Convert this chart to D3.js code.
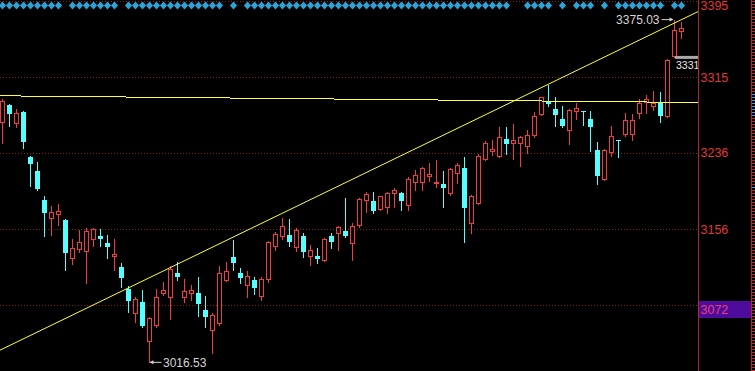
<!DOCTYPE html>
<html>
<head>
<meta charset="utf-8">
<script src="https://cdn.jsdelivr.net/npm/d3@7/dist/d3.min.js"></script>
<style>
html, body { margin: 0; padding: 0; background: #000; overflow: hidden; }
svg { display: block; }
</style>
</head>
<body>
<div id="chart"></div>
<script>
var svgWidth = 755;
var svgHeight = 371;
var plotRight = 698;

// daily candles
var opens  = [3268,3286,3267,3278,3231,3217,3186,3168,3172,3165,3126,3135,3133,3146,3149,3141,3128,3116,3093,3068,
              3080,3039,3056,3089,3085,3110,3085,3089,3089,3071,3050,3058,3103,3127,3110,3097,3103,3086,3104,3138,
              3149,3150,3137,3149,3128,3128,3124,3149,3152,3154,3141,3160,3186,3185,3177,3179,3194,3194,3181,3205,
              3205,3211,3204,3203,3194,3215,3220,3162,3183,3229,3238,3232,3250,3246,3246,3243,3254,3276,3290,3282,
              3271,3260,3279,3279,3271,3239,3208,3237,3249,3255,3255,3277,3289,3285,3288,3274,3337,3363];
var highs  = [3292,3287,3282,3279,3232,3226,3190,3180,3182,3166,3146,3155,3157,3157,3156,3150,3146,3120,3096,3085,
              3092,3064,3093,3101,3117,3121,3104,3097,3106,3086,3068,3117,3122,3145,3115,3112,3106,3106,3143,3153,
              3167,3166,3157,3152,3139,3136,3147,3152,3159,3188,3162,3188,3195,3195,3191,3195,3199,3195,3210,3218,
              3221,3225,3228,3217,3220,3225,3231,3192,3234,3248,3249,3263,3263,3266,3253,3260,3278,3294,3307,3294,
              3285,3282,3288,3279,3279,3247,3240,3264,3249,3277,3276,3292,3296,3300,3299,3334,3375.03,3373];
var lows   = [3246,3264,3263,3241,3201,3197,3149,3150,3160,3113,3119,3132,3100,3138,3138,3126,3113,3095,3069,3059,
              3054,3016.53,3054,3087,3062,3103,3080,3082,3065,3053,3026,3056,3102,3113,3100,3085,3088,3082,3101,3134,
              3146,3138,3133,3127,3118,3120,3123,3136,3134,3148,3124,3158,3174,3173,3176,3173,3179,3176,3176,3197,
              3197,3206,3200,3179,3192,3204,3142,3152,3182,3228,3233,3231,3234,3229,3222,3235,3252,3275,3285,3264,
              3263,3245,3271,3265,3238,3203,3207,3232,3231,3253,3249,3272,3277,3281,3268,3273,3336,3356];
var closes = [3290,3276,3277,3247,3224,3198,3173,3174,3175,3131,3136,3142,3154,3156,3146,3137,3130,3105,3081,3083,
              3055,3063,3085,3092,3114,3106,3091,3092,3078,3064,3066,3110,3112,3120,3105,3107,3094,3104,3142,3151,
              3159,3142,3155,3132,3134,3125,3146,3142,3158,3149,3159,3187,3193,3175,3190,3194,3197,3185,3208,3213,
              3220,3214,3205,3199,3219,3223,3178,3190,3232,3246,3240,3252,3245,3249,3252,3254,3274,3294,3287,3275,
              3264,3280,3283,3278,3263,3211,3239,3253,3248,3270,3270,3288,3292,3288,3274,3333,3364,3366];
// signal row on top: 1 = diamond shown
var signals = [1,1,1,1,1,1,1,1,1,0,1,1,1,1,1,1,1,0,1,1,
               1,1,1,1,1,1,1,1,1,1,1,1,0,1,0,1,1,1,1,1,
               1,1,1,1,1,1,1,1,1,1,1,1,1,1,1,1,1,1,1,1,
               1,1,1,1,1,1,1,1,1,1,1,1,1,0,0,1,1,1,1,0,
               1,0,1,1,1,0,1,0,1,1,1,1,1,1,1,0,1,1];

var axisTicks = [3395, 3315, 3236, 3156];
var gridValues = [3395, 3315, 3236, 3156, 3076];
var markValue = 3072;
var trendUp = [[0, 3030.5], [97, 3375]];
var trendFlat = [[0, 3295.3], [97, 3288.5]];
var highLabel = "3375.03";
var lowLabel = "3016.53";
var lastLabel = "3331";
var lastLevel = 3335.5;
var stripBlue = [[3273, 3299], [3198, 3200]];

var data = opens.map(function(o, i) {
	return {i: i, open: o, high: highs[i], low: lows[i], close: closes[i], sig: signals[i]};
});

var svg = d3.select("#chart")
	.append("svg")
	.attr("width", svgWidth)
	.attr("height", svgHeight)
	.style("background", "#000");

var x = d3.scaleLinear().domain([0, 97]).range([2.5, 681.5]);
var y = d3.scaleLinear().domain([3315, 3156]).range([77, 229]);

var red = "#f03c3c";
var cyan = "#54ffff";

svg.append("clipPath").attr("id", "plot")
	.append("rect").attr("x", 0).attr("y", 0).attr("width", plotRight).attr("height", svgHeight);

var plot = svg.append("g").attr("clip-path", "url(#plot)");

// dotted grid
plot.selectAll(".grid")
	.data(gridValues)
	.enter()
	.append("line")
	.attr("x1", 0)
	.attr("x2", plotRight)
	.attr("y1", d => Math.round(y(d)) + 0.5)
	.attr("y2", d => Math.round(y(d)) + 0.5)
	.attr("stroke", "#8a1c1c")
	.attr("stroke-dasharray", "1,2");

// candles
var candles = plot.selectAll(".candle")
	.data(data)
	.enter()
	.append("g")
	.attr("shape-rendering", "crispEdges");

candles.append("line")
	.attr("x1", d => x(d.i))
	.attr("x2", d => x(d.i))
	.attr("y1", d => Math.round(y(d.high)))
	.attr("y2", d => Math.round(y(d.low)) + 1)
	.attr("stroke", d => d.close >= d.open ? red : cyan);

candles.append("rect")
	.attr("x", d => d.close >= d.open ? x(d.i) - 2 : x(d.i) - 2.5)
	.attr("width", d => d.close >= d.open ? 4 : 5)
	.attr("y", function(d) {
		var t = Math.round(y(Math.max(d.open, d.close)));
		return d.close >= d.open ? t + 0.5 : t;
	})
	.attr("height", function(d) {
		var t = Math.round(y(Math.max(d.open, d.close)));
		var b = Math.round(y(Math.min(d.open, d.close)));
		return d.close >= d.open ? Math.max(b - t, 0) : Math.max(b - t, 1);
	})
	.attr("fill", d => d.close >= d.open ? "#000" : cyan)
	.attr("stroke", d => d.close >= d.open ? red : "none");

// trend lines
function extend(pts) {
	var k = (pts[1][1] - pts[0][1]) / (pts[1][0] - pts[0][0]);
	var i0 = x.invert(0), i1 = x.invert(plotRight);
	return [[i0, pts[0][1] + k * (i0 - pts[0][0])], [i1, pts[0][1] + k * (i1 - pts[0][0])]];
}
var line = d3.line().x(d => x(d[0])).y(d => y(d[1]));

plot.append("path")
	.attr("d", line(extend(trendFlat)))
	.attr("fill", "none")
	.attr("stroke", "#ffff40")
	.attr("stroke-width", 1)
	.attr("shape-rendering", "crispEdges");

plot.append("path")
	.attr("d", line(extend(trendUp)))
	.attr("fill", "none")
	.attr("stroke", "#ffff30")
	.attr("stroke-width", 1);

// signal diamonds
plot.selectAll(".sig")
	.data(data.filter(d => d.sig))
	.enter()
	.append("path")
	.attr("d", d => `M${x(d.i)},1.5 L${x(d.i) + 3.6},5.5 L${x(d.i)},9.5 L${x(d.i) - 3.6},5.5 Z`)
	.attr("fill", "#2ea3d6");

// high / low annotations
var hi = data[d3.maxIndex(highs)];
var lo = data[d3.minIndex(lows)];
var grey = "#d4d4d4";

plot.append("line")
	.attr("x1", x(hi.i) - 13).attr("x2", x(hi.i) - 2)
	.attr("y1", y(hi.high)).attr("y2", y(hi.high))
	.attr("stroke", grey);
plot.append("path")
	.attr("d", `M${x(hi.i) - 1},${y(hi.high)} l-4,-2 l0,4 Z`)
	.attr("fill", grey);
plot.append("text")
	.attr("x", x(hi.i) - 15)
	.attr("y", y(hi.high) + 4.5)
	.attr("text-anchor", "end")
	.attr("fill", grey)
	.style("font", "12px 'Liberation Sans', Arial, sans-serif")
	.text(highLabel);

plot.append("line")
	.attr("x1", x(lo.i) + 1).attr("x2", x(lo.i) + 12)
	.attr("y1", y(lo.low)).attr("y2", y(lo.low))
	.attr("stroke", grey);
plot.append("path")
	.attr("d", `M${x(lo.i)},${y(lo.low)} l4,-2 l0,4 Z`)
	.attr("fill", grey);
plot.append("text")
	.attr("x", x(lo.i) + 13.5)
	.attr("y", y(lo.low) + 4.5)
	.attr("fill", grey)
	.style("font", "12px 'Liberation Sans', Arial, sans-serif")
	.text(lowLabel);

// last level marker
plot.append("rect")
	.attr("x", x(96) + 0.5)
	.attr("y", y(lastLevel) - 1.5)
	.attr("width", plotRight - x(96))
	.attr("height", 3)
	.attr("fill", "#a8a8a8");
plot.append("text")
	.attr("x", x(96) + 1.5)
	.attr("y", y(lastLevel) + 12)
	.attr("fill", "#e8e8e8")
	.style("font", "10.5px 'Liberation Sans', Arial, sans-serif")
	.text(lastLabel);

// right axis panel
var axisG = svg.append("g");
axisG.append("line")
	.attr("x1", plotRight + 0.5).attr("x2", plotRight + 0.5)
	.attr("y1", 0).attr("y2", svgHeight)
	.attr("stroke", "#b02828");

axisG.selectAll(".tick")
	.data(axisTicks)
	.enter()
	.append("text")
	.attr("x", plotRight + 2.5)
	.attr("y", d => Math.max(y(d) + 4.5, 9.5))
	.attr("fill", "#e0383c")
	.style("font", "12.5px 'Liberation Sans', Arial, sans-serif")
	.text(d => d);

axisG.append("rect")
	.attr("x", plotRight + 1)
	.attr("y", Math.round(y(markValue)) - 8)
	.attr("width", 752 - plotRight - 1)
	.attr("height", 17)
	.attr("fill", "#4e0c9c");
axisG.append("text")
	.attr("x", plotRight + 2.5)
	.attr("y", y(markValue) + 4.5)
	.attr("fill", "#e8407a")
	.style("font", "12.5px 'Liberation Sans', Arial, sans-serif")
	.text(markValue);

// right edge strip
axisG.append("line")
	.attr("x1", 751.5).attr("x2", 751.5)
	.attr("y1", 0).attr("y2", svgHeight)
	.attr("stroke", "#b02828");
axisG.selectAll(".strip")
	.data(d3.range(1, svgHeight, 3))
	.enter()
	.append("line")
	.attr("x1", 752).attr("x2", 755)
	.attr("y1", d => d + 0.5).attr("y2", d => d + 0.5)
	.attr("stroke", function(d) {
		var v = y.invert(d);
		return stripBlue.some(r => v >= r[0] && v <= r[1]) ? "#3aa0e0" : "#c02828";
	});
</script>
</body>
</html>
